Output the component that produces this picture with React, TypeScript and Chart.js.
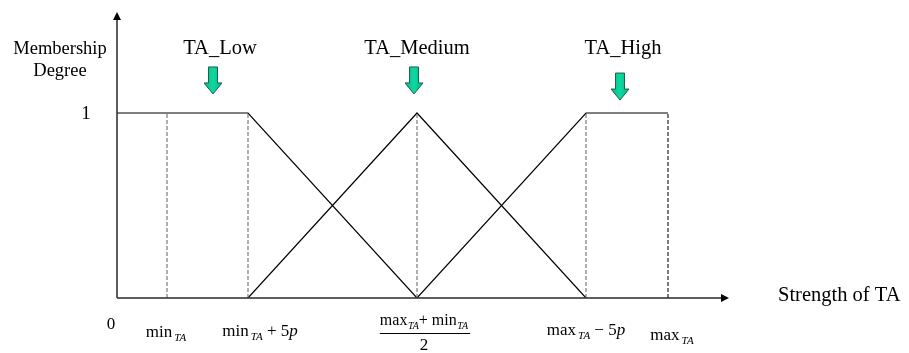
import React, { useEffect, useRef } from "react";
import { Chart, registerables } from "chart.js";

Chart.register(...registerables);

// ---- data ----
const xMaxValue = 612;
const yMaxValue = 1.546;
const lowX = [0, 131, 300];
const lowY = [1, 1, 0];
const mediumX = [131, 300, 469];
const mediumY = [0, 1, 0];
const highX = [300, 469, 551];
const highY = [0, 1, 1];
const guideX = [50, 131, 300, 469, 551];
const guideTop = [1, 1, 1, 1, 1];
const guideColor = ["#7a7a7a", "#7a7a7a", "#7a7a7a", "#7a7a7a", "#222222"];
const tickValues = [0, 50, 131, 300, 469, 551];
const tickLabels = [
  "0",
  "min_{TA}",
  "min_{TA} + 5*p*",
  "max_{TA}+ min_{TA}|2",
  "max_{TA} − 5*p*",
  "max_{TA}",
];
const setNames = ["TA_Low", "TA_Medium", "TA_High"];
const setLabelX = [103, 300, 506];
const setArrowX = [96, 297, 503];
const setArrowTop = [1.249, 1.249, 1.216];
const yTickValues = [1];
const yTickLabels = ["1"];
const yTitle = ["Membership", "Degree"];
const xTitle = "Strength of TA";

const FONT = '"Liberation Serif", "Times New Roman", serif';

type Seg = { t: string; k: "n" | "i" | "s" };

function parse(text: string): Seg[] {
  const re = /_\{([^}]*)\}|\*([^*]*)\*|([^_*]+)/g;
  const out: Seg[] = [];
  let m: RegExpExecArray | null;
  while ((m = re.exec(text))) {
    if (m[1] !== undefined) out.push({ t: m[1], k: "s" });
    else if (m[2] !== undefined) out.push({ t: m[2], k: "i" });
    else out.push({ t: m[3], k: "n" });
  }
  return out;
}

function segFont(k: string, size: number) {
  if (k === "n") return `${size}px ${FONT}`;
  if (k === "i") return `italic ${size}px ${FONT}`;
  return `italic ${Math.round(size * 0.62)}px ${FONT}`;
}

function measureRich(ctx: CanvasRenderingContext2D, segs: Seg[], size: number, gap: number) {
  let w = 0;
  for (const s of segs) {
    ctx.font = segFont(s.k, size);
    w += ctx.measureText(s.t).width + (s.k === "s" ? gap : 0);
  }
  return w;
}

function drawRich(ctx: CanvasRenderingContext2D, text: string, cx: number, baseline: number, size: number, gap = 2) {
  const segs = parse(text);
  const w = measureRich(ctx, segs, size, gap);
  let x = cx - w / 2;
  ctx.textAlign = "left";
  ctx.textBaseline = "alphabetic";
  for (const s of segs) {
    ctx.font = segFont(s.k, size);
    if (s.k === "s") {
      x += gap;
      ctx.fillText(s.t, x, baseline + size * 0.22);
    } else {
      ctx.fillText(s.t, x, baseline);
    }
    x += ctx.measureText(s.t).width;
  }
  return w;
}

const tickDx = [-6, -1, 12, 7, 0, 4];
const tickDy = [31, 39, 38, 27, 37, 42];

const overlay = {
  id: "overlay",
  afterDatasetsDraw(chart: any) {
    const ctx: CanvasRenderingContext2D = chart.ctx;
    const xs = chart.scales.x;
    const ys = chart.scales.y;
    const x0 = xs.getPixelForValue(0);
    const y0 = ys.getPixelForValue(0);
    const xEnd = xs.getPixelForValue(xMaxValue);
    const yEnd = ys.getPixelForValue(yMaxValue);
    ctx.save();
    // axes
    ctx.strokeStyle = "#2a2a2a";
    ctx.fillStyle = "#000";
    ctx.lineWidth = 1.5;
    ctx.beginPath();
    ctx.moveTo(x0, y0);
    ctx.lineTo(xEnd - 7, y0);
    ctx.moveTo(x0, y0);
    ctx.lineTo(x0, yEnd + 7);
    ctx.stroke();
    ctx.beginPath();
    ctx.moveTo(xEnd, y0);
    ctx.lineTo(xEnd - 8, y0 - 4);
    ctx.lineTo(xEnd - 8, y0 + 4);
    ctx.closePath();
    ctx.fill();
    ctx.beginPath();
    ctx.moveTo(x0, yEnd);
    ctx.lineTo(x0 - 4, yEnd + 8);
    ctx.lineTo(x0 + 4, yEnd + 8);
    ctx.closePath();
    ctx.fill();

    // tick labels
    ctx.fillStyle = "#000";
    tickValues.forEach((v, i) => {
      const px = xs.getPixelForValue(v) + tickDx[i];
      const base = y0 + tickDy[i];
      const label = tickLabels[i];
      if (label.includes("|")) {
        const [num, den] = label.split("|");
        const w = drawRich(ctx, num, px, base, 16, 0.5);
        ctx.strokeStyle = "#000";
        ctx.lineWidth = 1;
        ctx.beginPath();
        ctx.moveTo(px - w / 2, base + 8.5);
        ctx.lineTo(px + w / 2 + 2, base + 8.5);
        ctx.stroke();
        drawRich(ctx, den, px, base + 25, 17);
      } else {
        drawRich(ctx, label, px, base, 17);
      }
    });

    // y ticks
    yTickValues.forEach((v, i) => {
      ctx.font = `19px ${FONT}`;
      ctx.textAlign = "center";
      ctx.textBaseline = "middle";
      ctx.fillText(yTickLabels[i], x0 - 31, ys.getPixelForValue(v) + 1);
    });

    // titles
    ctx.font = `18.5px ${FONT}`;
    ctx.textAlign = "center";
    ctx.textBaseline = "middle";
    ctx.fillText(yTitle[0], x0 - 57, yEnd + 37);
    ctx.fillText(yTitle[1], x0 - 57, yEnd + 59);
    ctx.font = `20.5px ${FONT}`;
    ctx.textAlign = "left";
    ctx.fillText(xTitle, xEnd + 49, y0 - 2);

    // set labels and arrows
    setNames.forEach((name, i) => {
      ctx.font = `20.5px ${FONT}`;
      ctx.textAlign = "center";
      ctx.textBaseline = "middle";
      ctx.fillStyle = "#000";
      ctx.fillText(name, xs.getPixelForValue(setLabelX[i]), yEnd + 37);
      const ax = xs.getPixelForValue(setArrowX[i]);
      const at = ys.getPixelForValue(setArrowTop[i]);
      const shaftH = 16;
      const headH = 11;
      const sw = 4.5;
      const hw = 9;
      const g = ctx.createLinearGradient(ax - hw, 0, ax + hw, 0);
      g.addColorStop(0, "#00b888");
      g.addColorStop(0.5, "#10d8a0");
      g.addColorStop(1, "#00b888");
      ctx.fillStyle = g;
      ctx.strokeStyle = "#1f5f4c";
      ctx.lineWidth = 1;
      ctx.beginPath();
      ctx.moveTo(ax - sw, at);
      ctx.lineTo(ax + sw, at);
      ctx.lineTo(ax + sw, at + shaftH);
      ctx.lineTo(ax + hw, at + shaftH);
      ctx.lineTo(ax, at + shaftH + headH);
      ctx.lineTo(ax - hw, at + shaftH);
      ctx.lineTo(ax - sw, at + shaftH);
      ctx.closePath();
      ctx.fill();
      ctx.stroke();
    });
    ctx.restore();
  },
};

function pts(xs: number[], ys: number[]) {
  return xs.map((x, i) => ({ x, y: ys[i] }));
}

export default function App() {
  const ref = useRef<HTMLCanvasElement>(null);
  useEffect(() => {
    if (!ref.current) return;
    const solid = (label: string, xs: number[], ys: number[]) => ({
      label,
      data: pts(xs, ys),
      showLine: true,
      borderColor: "#000",
      borderWidth: 1.2,
      pointRadius: 0,
      fill: false,
    });
    const guides = guideX.map((gx, i) => ({
      label: "guide" + i,
      data: [
        { x: gx, y: 0 },
        { x: gx, y: guideTop[i] },
      ],
      showLine: true,
      borderColor: guideColor[i],
      borderWidth: 1.2,
      borderDash: [4, 2],
      pointRadius: 0,
      fill: false,
    }));
    const chart = new Chart(ref.current, {
      type: "scatter",
      data: {
        datasets: [
          ...guides,
          solid("TA_Low", lowX, lowY),
          solid("TA_Medium", mediumX, mediumY),
          solid("TA_High", highX, highY),
        ] as any,
      },
      options: {
        responsive: false,
        devicePixelRatio: 1,
        animation: false,
        layout: { padding: { left: 117, right: 180, top: 12, bottom: 55 } },
        scales: {
          x: { type: "linear", min: 0, max: xMaxValue, display: false },
          y: { type: "linear", min: 0, max: yMaxValue, display: false },
        },
        plugins: { legend: { display: false }, tooltip: { enabled: false } },
      },
      plugins: [overlay],
    });
    return () => chart.destroy();
  }, []);
  return (
    <div style={{ position: "absolute", left: 0, top: 0, width: 909, height: 353, background: "#fff" }}>
      <canvas ref={ref} width={909} height={353} style={{ display: "block" }} />
    </div>
  );
}
